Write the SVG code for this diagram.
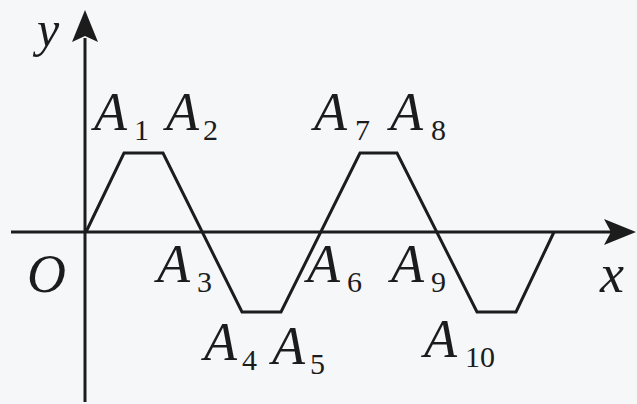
<svg xmlns="http://www.w3.org/2000/svg" width="637" height="404" viewBox="0 0 637 404">
  <style>
    .ax { stroke:#1c1c1c; stroke-width:3; fill:none; }
    .wave { stroke:#1c1c1c; stroke-width:3; fill:none; stroke-linejoin:miter; }
    .head { fill:#1c1c1c; }
    text { font-family:'Liberation Serif', 'Times New Roman', serif; fill:#1c1c1c; }
    .lbl { font-style:italic; font-size:54px; }
    .sub { font-style:normal; font-size:30px; }
  </style>
  <rect width="637" height="404" fill="#f5f7f9"/>
  <g id="connectors">
    <line class="ax" x1="11" y1="232" x2="612" y2="232"/>
    <polygon class="head" points="636,232 604,219 611,232 604,245"/>
    <line class="ax" x1="85" y1="402" x2="85" y2="38"/>
    <polygon class="head" points="85,10 72,42 85,36 98,42"/>
    <polyline class="wave" points="86,232 124,153 163,153 242,312 281,312 360,153 397,153 477,312 516,312 554,232"/>
  </g>
  <g id="y-label"><text class="lbl" x="37" y="46" style="font-size:50px">y</text></g>
  <g id="x-label"><text class="lbl" x="600" y="292">x</text></g>
  <g id="O"><text class="lbl" x="27" y="292">O</text></g>
  <g id="A1"><text class="lbl" x="94" y="130">A</text><text class="sub" x="134" y="140">1</text></g>
  <g id="A2"><text class="lbl" x="166" y="130">A</text><text class="sub" x="203" y="140">2</text></g>
  <g id="A3"><text class="lbl" x="157" y="282">A</text><text class="sub" x="197" y="292">3</text></g>
  <g id="A4"><text class="lbl" x="204" y="360">A</text><text class="sub" x="242" y="370">4</text></g>
  <g id="A5"><text class="lbl" x="272" y="364">A</text><text class="sub" x="310" y="374">5</text></g>
  <g id="A6"><text class="lbl" x="307" y="282">A</text><text class="sub" x="347" y="292">6</text></g>
  <g id="A7"><text class="lbl" x="314" y="130">A</text><text class="sub" x="355" y="140">7</text></g>
  <g id="A8"><text class="lbl" x="390" y="130">A</text><text class="sub" x="431" y="140">8</text></g>
  <g id="A9"><text class="lbl" x="391" y="282">A</text><text class="sub" x="431" y="292">9</text></g>
  <g id="A10"><text class="lbl" x="424" y="357">A</text><text class="sub" x="465" y="367">10</text></g>
</svg>
